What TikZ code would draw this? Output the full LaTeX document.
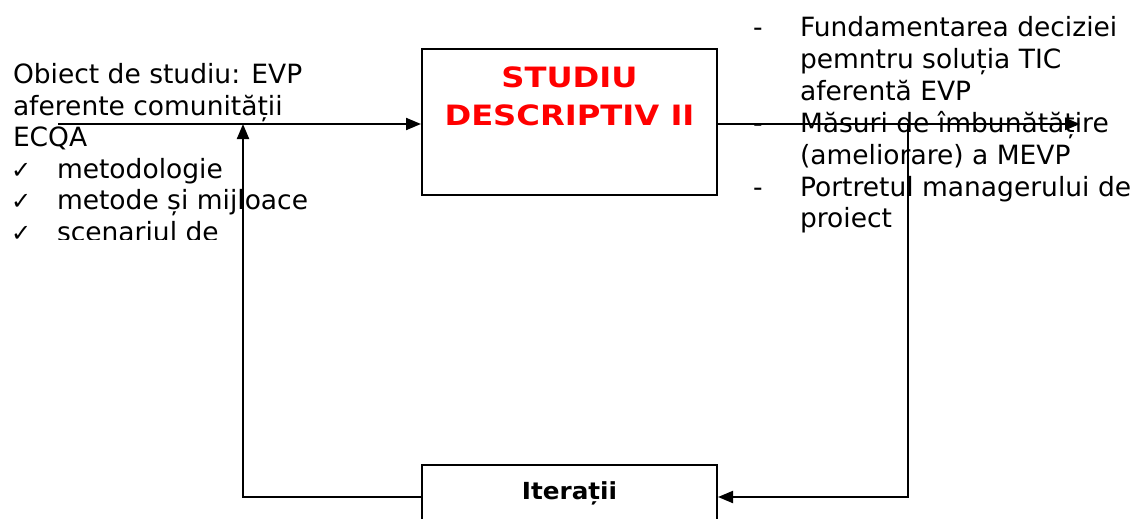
\documentclass[tikz,border=0pt]{standalone}
\usepackage{fontspec}
\setmainfont{DejaVu Sans}
\newfontfamily\titlefont[FakeStretch=1.15]{DejaVu Sans Bold}
\newfontfamily\iterfont[FakeStretch=1.05]{DejaVu Sans Bold}
\usetikzlibrary{arrows.meta}
\begin{document}
\begin{tikzpicture}[x=1pt,y=-1pt,
  boxst/.style={draw=black,line width=2pt,inner sep=0pt,fill=none},
  txt/.style={anchor=base west,inner sep=0pt,outer sep=0pt,font=\fontsize{26.5}{31}\selectfont},
  chk/.style={anchor=base west,inner sep=0pt,outer sep=0pt,font=\fontsize{24}{28}\selectfont},
  ttl/.style={anchor=base,inner sep=0pt,text=red,font=\titlefont\fontsize{28}{33}\selectfont},
  conn/.style={line width=2pt,draw=black},
  arr/.style={conn,-{Triangle[length=15pt,width=12pt]}}]
\useasboundingbox (0,0) rectangle (1137,519);

% main process box
\node[boxst,minimum width=295pt,minimum height=146pt] (desc) at (569.5,122) {};
\node[ttl] (t1) at (569.5,88) {STUDIU};
\node[ttl] (t2) at (569.5,125) {DESCRIPTIV II};

% iteration box
\node[boxst,minimum width=295pt,minimum height=80pt] (iter) at (569.5,505) {};
\node[anchor=base,inner sep=0pt,font=\iterfont\fontsize{23.5}{28}\selectfont] (it) at (569.5,499) {Iterații};

% input description
\node[txt] (l1) at (13,84) {Obiect de studiu: EVP};
\node[txt] (l2) at (13,115) {aferente comunității};
\node[txt] (l3) at (13,146) {ECQA};
\node[chk] (c1) at (11,178) {✓};
\node[txt] (l4) at (57,178) {metodologie};
\node[chk] (c2) at (11,209) {✓};
\node[txt] (l5) at (57,209) {metode și mijloace};
\begin{scope}
  \clip (0,217) rectangle (420,239.5);
  \node[chk] (c3) at (11,241) {✓};
  \node[txt] (l6) at (57,241) {scenariul de};
\end{scope}

% results
\node[txt] (d1) at (753,37) {-};
\node[txt] (r1) at (800,37) {Fundamentarea deciziei};
\node[txt] (r2) at (800,68.8) {pemntru soluția TIC};
\node[txt] (r3) at (800,100.6) {aferentă EVP};
\node[txt] (d2) at (753,132.4) {-};
\node[txt] (r4) at (800,132.4) {Măsuri de îmbunătățire};
\node[txt] (r5) at (800,164.2) {(ameliorare) a MEVP};
\node[txt] (d3) at (753,196) {-};
\node[txt] (r6) at (800,196) {Portretul managerului de};
\node[txt] (r7) at (800,227.8) {proiect};

% connector points
\coordinate (in) at (58,124);
\coordinate (out) at (1080,124);
\coordinate (rj) at (908,124);
\coordinate (rb) at (908,497);
\coordinate (lb) at (243,497);
\coordinate (lj) at (243,124);

\draw[arr] (in) -- (in -| desc.west);
\draw[arr] (desc.east |- out) -- (out);
\draw[arr] (rj) -- (rb) -- (rb -| iter.east);
\draw[arr] (lb -| iter.west) -- (lb) -- (lj);
\end{tikzpicture}
\end{document}
